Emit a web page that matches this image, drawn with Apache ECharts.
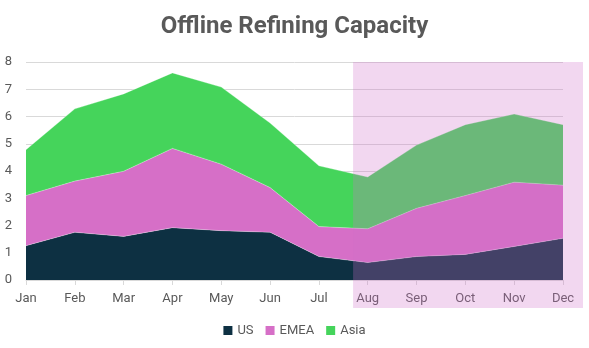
<!DOCTYPE html>
<html><head><meta charset="utf-8">
<script src="https://cdn.jsdelivr.net/npm/echarts@6/dist/echarts.min.js"></script>
<style>html,body{margin:0;padding:0;background:#fff}#c{width:589px;height:348px}</style>
</head><body><div id="c"></div>
<script>
const months = ['Jan','Feb','Mar','Apr','May','Jun','Jul','Aug','Sep','Oct','Nov','Dec'];
const us   = [1.26,1.75,1.60,1.92,1.81,1.75,0.86,0.64,0.86,0.94,1.23,1.53];
const emea = [1.84,1.88,2.39,2.91,2.44,1.64,1.10,1.24,1.77,2.16,2.36,1.95];
const asia = [1.68,2.65,2.84,2.77,2.83,2.37,2.23,1.90,2.32,2.60,2.50,2.22];
const yTicks = [0,1,2,3,4,5,6,7,8];

const font = '"Liberation Sans Narrow", "Roboto", sans-serif';
const chart = echarts.init(document.getElementById('c'), null, {renderer:'canvas'});
function mk(name, data, color){
  return {name, type:'line', stack:'t', data, symbol:'none', smooth:false,
    lineStyle:{width:0.5,color:'#ffffff',opacity:0.6}, areaStyle:{color, opacity:1}, itemStyle:{color}, z:2};
}
chart.setOption({
  animation:false,
  title:{text:'Offline Refining Capacity', left:'center', top:10,
    textStyle:{fontFamily:font, fontSize:24, fontWeight:'bold', color:'#595959'}},
  grid:{left:26, right:26, top:62, bottom:68},
  legend:{bottom:6, left:'center', icon:'rect', itemWidth:9, itemHeight:9, itemGap:12,
    textStyle:{fontFamily:font, fontSize:13, color:'#595959'}},
  xAxis:{type:'category', data:months, boundaryGap:false,
    axisLine:{lineStyle:{color:'#d9d9d9'}}, axisTick:{show:true, alignWithLabel:true, lineStyle:{color:'#d9d9d9'}},
    axisLabel:{fontFamily:font, fontSize:13, color:'#595959', margin:12}},
  yAxis:{type:'value', min:yTicks[0], max:yTicks[yTicks.length-1], interval:1,
    axisLine:{show:false}, axisTick:{show:false},
    splitLine:{lineStyle:{color:'#d9d9d9'}},
    axisLabel:{fontFamily:font, fontSize:13, color:'#595959', margin:14}},
  series:[mk('US',us,'#0d3042'), mk('EMEA',emea,'#d66fc7'), mk('Asia',asia,'#45d45b')]
});
// forecast shading overlay
const topY = chart.convertToPixel({yAxisIndex:0}, yTicks[yTicks.length-1]);
const x0 = chart.convertToPixel({xAxisIndex:0}, 'Jul');
const x1 = chart.convertToPixel({xAxisIndex:0}, 'Aug');
const xs = x0 + (x1 - x0) * 0.7;
chart.setOption({graphic:[{type:'rect', z:100, silent:true,
  shape:{x:xs, y:topY, width:583 - xs, height:308 - topY},
  style:{fill:'rgba(209,112,201,0.28)'}}]});
</script></body></html>
